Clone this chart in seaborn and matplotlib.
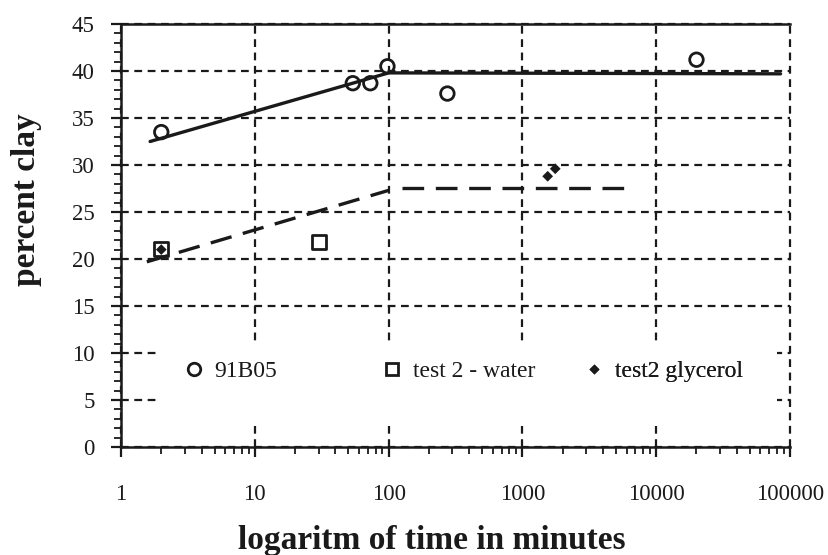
import numpy as np
import pandas as pd
import matplotlib
matplotlib.use("Agg")
import matplotlib.pyplot as plt
from matplotlib.ticker import LogLocator, FixedLocator, MultipleLocator, NullFormatter
from matplotlib.patches import Rectangle
from matplotlib.lines import Line2D
import seaborn as sns

# ---- data ----
b05_time = [2, 54, 73, 98, 275, 20000]
b05_clay = [33.5, 38.7, 38.7, 40.5, 37.6, 41.2]
water_time = [2, 30]
water_clay = [21.1, 21.8]
gly_time = [2, 1545, 1760]
gly_clay = [21.0, 28.8, 29.6]
fit1_time = [1.65, 100, 85000]
fit1_clay = [32.5, 39.8, 39.7]
fit2a_time = [1.56, 100]
fit2a_clay = [19.7, 27.3]
fit2b_time = [125, 5900]
fit2b_clay = [27.6, 27.6]
x_ticks = [1, 10, 100, 1000, 10000, 100000]
x_labels = ["1", "10", "100", "1000", "10000", "100000"]
y_ticks = list(range(0, 50, 5))
legend_labels = ["91B05", "test 2 - water", "test2 glycerol"]

sns.set_theme(style="white")
plt.rcParams["font.family"] = ["Liberation Serif", "DejaVu Serif"]

fig = plt.figure(figsize=(8.29, 5.55), dpi=100)
ax = fig.add_axes([121 / 829, 1 - 447 / 555, (790 - 121) / 829, (447 - 24) / 555])

# fit lines
sns.lineplot(x=fit1_time, y=fit1_clay, ax=ax, color="#1a1a1a", lw=2.4,
             sort=False, estimator=None, zorder=3)
sns.lineplot(x=fit2a_time, y=fit2a_clay, ax=ax, color="#1a1a1a", lw=2.4,
             sort=False, estimator=None, zorder=3, dashes=False)
sns.lineplot(x=fit2b_time, y=fit2b_clay, ax=ax, color="#1a1a1a", lw=2.4,
             sort=False, estimator=None, zorder=3, dashes=False)
for ln in ax.lines[1:]:
    ln.set_linestyle((0, (6.5, 3.5)))

# markers
sns.scatterplot(x=b05_time, y=b05_clay, ax=ax, marker="o", s=95,
                facecolor="none", edgecolor="#1a1a1a", linewidth=2.0, zorder=4)
sns.scatterplot(x=water_time, y=water_clay, ax=ax, marker="s", s=100,
                facecolor="none", edgecolor="#1a1a1a", linewidth=2.0, zorder=4)
sns.scatterplot(x=gly_time, y=gly_clay, ax=ax, marker="D", s=30,
                color="#1a1a1a", edgecolor="none", zorder=5)

ax.set_xscale("log")
ax.set_xlim(1, 100000)
ax.set_ylim(0, 45)

ax.set_xticks(x_ticks)
ax.set_xticklabels(x_labels)
ax.xaxis.set_minor_locator(LogLocator(base=10, subs=np.arange(2, 10), numticks=20))
ax.xaxis.set_minor_formatter(NullFormatter())
ax.set_yticks(y_ticks)
ax.yaxis.set_minor_locator(MultipleLocator(1))

ax.tick_params(axis="both", which="major", direction="out", length=7, width=1.6,
               color="#1a1a1a", labelsize=16.5, labelcolor="#1a1a1a")
ax.tick_params(axis="both", which="minor", direction="out", length=5, width=1.3,
               color="#1a1a1a")
ax.tick_params(axis="x", which="both", bottom=True, pad=20)
ax.tick_params(axis="y", which="both", left=True, pad=12)

for side in ["left", "bottom", "top"]:
    ax.spines[side].set_visible(True)
    ax.spines[side].set_color("#1a1a1a")
    ax.spines[side].set_linewidth(1.8)
ax.spines["right"].set_visible(False)

ax.grid(True, which="major", color="#1a1a1a", linestyle=(0, (3.5, 2.5)), linewidth=1.6)
ax.grid(False, which="minor")
ax.set_axisbelow(True)
for gl in ax.get_xgridlines() + ax.get_ygridlines():
    gl.set_clip_on(False)

# legend background box
ax.add_patch(Rectangle((0.055, 0.05), 0.925, 0.2, transform=ax.transAxes,
                       facecolor="white", edgecolor="none", zorder=1.5))

handles = [
    Line2D([], [], marker="o", ls="none", markersize=9, markerfacecolor="none",
           markeredgecolor="#1a1a1a", markeredgewidth=2.0),
    Line2D([], [], marker="s", ls="none", markersize=9, markerfacecolor="none",
           markeredgecolor="#1a1a1a", markeredgewidth=2.0),
    Line2D([], [], marker="D", ls="none", markersize=5, markerfacecolor="#1a1a1a",
           markeredgecolor="none"),
]
leg_x = [(185 - 121) / 669, (383 - 121) / 669, (585 - 121) / 669]
for h, lab, lx in zip(handles, legend_labels, leg_x):
    lg = ax.legend([h], [lab], loc="center left", bbox_to_anchor=(lx, (447 - 371) / 423),
                   frameon=False, fontsize=17, handlelength=0.8, handletextpad=0.45,
                   borderaxespad=0, borderpad=0)
    for t in lg.get_texts():
        t.set_color("#1a1a1a")
    ax.add_artist(lg)

ax.set_xlabel("logaritm of time in minutes", fontsize=24, fontweight="bold", color="#1a1a1a")
ax.xaxis.set_label_coords((432 - 121) / 669, (447 - 525) / 423)
ax.set_ylabel("percent clay", fontsize=24, fontweight="bold", color="#1a1a1a")
ax.yaxis.set_label_coords((42 - 121) / 669, (447 - 200) / 423)

fig.savefig("out.png", dpi=100)
